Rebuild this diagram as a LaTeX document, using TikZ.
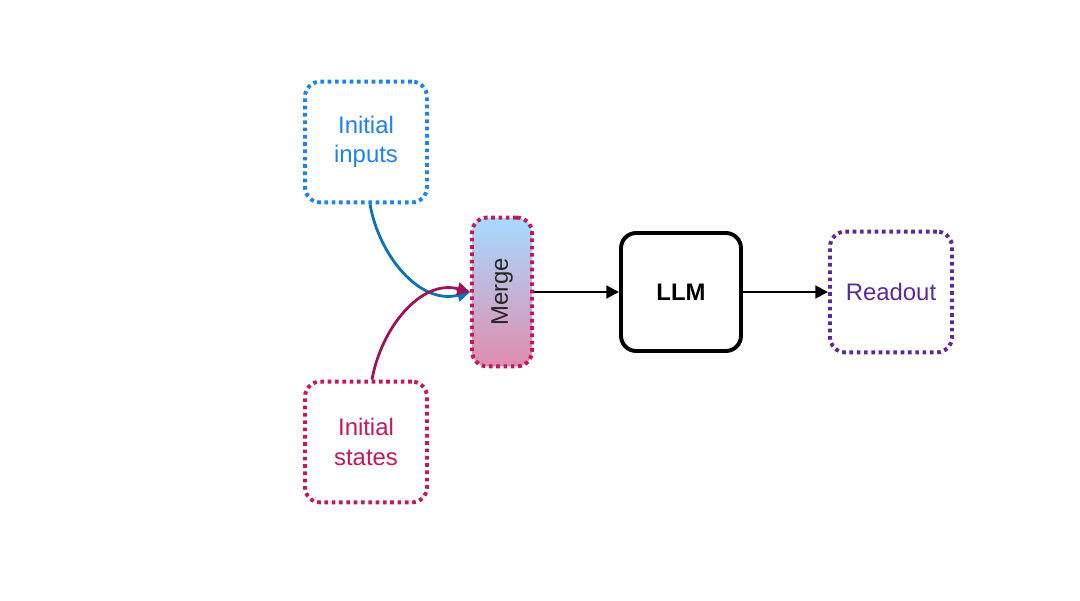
\documentclass[tikz,border=0pt]{standalone}
\usepackage{fontspec}
\setmainfont{Liberation Sans}
\usetikzlibrary{calc}
\usetikzlibrary{positioning}
\usetikzlibrary{arrows.meta}
\definecolor{inblue}{HTML}{1F82EA}
\definecolor{arblue}{HTML}{0A72B8}
\definecolor{stred}{HTML}{C2185B}
\definecolor{arred}{HTML}{9C1558}
\definecolor{rdpurple}{HTML}{5A2A9C}
\tikzstyle{dotbox} = [rounded corners=0.38cm, line width=2.8pt, dash pattern=on 2.6pt off 2.6pt, minimum width=3.05cm, minimum height=3.02cm, align=center, font=\fontsize{17}{21}\selectfont]
\tikzstyle{flow} = [line width=2pt, -{Triangle[length=9pt,width=9pt]}]
\begin{document}
\begin{tikzpicture}
\useasboundingbox (0,0) rectangle (27,15);
\node[dotbox, draw=inblue, text=inblue] (inputs) at (9.15,11.45) {Initial\\inputs};
\node[dotbox, draw=stred, text=stred] (states) at (9.15,3.95) {Initial\\states};
\node[dotbox, draw=stred, minimum width=1.5cm, minimum height=3.72cm, top color=blue!40!cyan!35, bottom color=stred!50] (merge) at (12.55,7.7) {};
\node[rotate=90, font=\fontsize{17}{21}\selectfont, text=black!85] (mergetext) at (merge) {Merge};
\node[draw, rounded corners=0.38cm, line width=2.8pt, minimum width=3cm, minimum height=2.95cm, font=\bfseries\fontsize{17}{21}\selectfont] (llm) at (17.025,7.7) {LLM};
\node[dotbox, draw=rdpurple, text=rdpurple] (readout) at (22.275,7.7) {Readout};
\draw[flow, arblue] ($(inputs.south)+(0.1,0)$) to[out=-80, in=195] (merge.west);
\draw[flow, arred] ($(states.north)+(0.15,0)$) to[out=80, in=165] (merge.west);
\draw[flow] (merge) -- (llm);
\draw[flow] (llm) -- (readout);
\end{tikzpicture}
\end{document}
